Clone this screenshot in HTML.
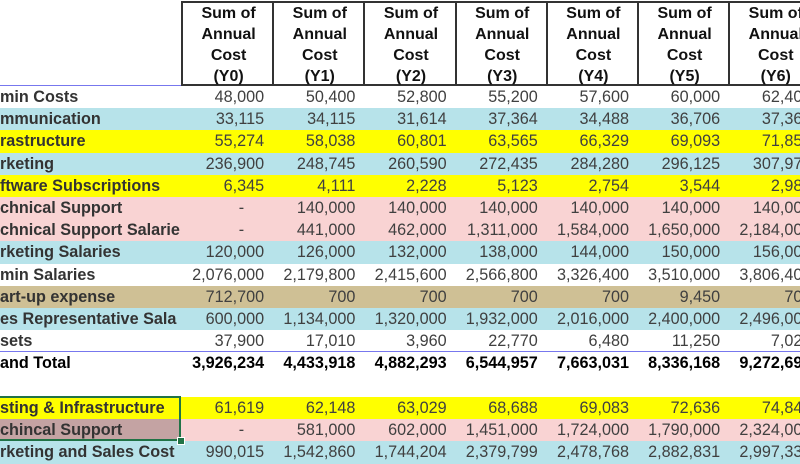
<!DOCTYPE html>
<html><head><meta charset="utf-8"><style>
body{margin:0;width:800px;height:460px;overflow:hidden;background:#fff;font-family:"Liberation Sans",sans-serif;position:relative}
.c{position:absolute;box-sizing:border-box;font-size:16.2px;white-space:nowrap;overflow:hidden;line-height:23px;color:#404040}
.h{position:absolute;top:1px;height:85px;box-sizing:border-box;border-left:2px solid #333;border-top:2px solid #333;border-bottom:2px solid #333;font-weight:bold;font-size:16px;text-align:center;line-height:21px;padding-top:0px;color:#111}
.lab{font-weight:bold;color:#333;padding-left:0}
.num{text-align:right;padding-right:8px}
</style></head><body>
<div id="root"></div>
<script>
const colHeads=["(Y0)","(Y1)","(Y2)","(Y3)","(Y4)","(Y5)","(Y6)"];
const labels=["min Costs","mmunication","rastructure","rketing","ftware Subscriptions","chnical Support","chnical Support Salarie","rketing Salaries","min Salaries","art-up expense","es Representative Sala","sets","and Total","","sting & Infrastructure","chincal Support","rketing and Sales Cost"];
const bgs=["#fff","#b7e3ea","#ffff00","#b7e3ea","#ffff00","#f9d3d3","#f9d3d3","#b7e3ea","#fff","#cfc095","#b7e3ea","#fff","#fff","#fff","#ffff00","#f9d3d3","#b7e3ea"];
const vals=[
["48,000","50,400","52,800","55,200","57,600","60,000","62,400"],
["33,115","34,115","31,614","37,364","34,488","36,706","37,364"],
["55,274","58,038","60,801","63,565","66,329","69,093","71,857"],
["236,900","248,745","260,590","272,435","284,280","296,125","307,970"],
["6,345","4,111","2,228","5,123","2,754","3,544","2,987"],
["-","140,000","140,000","140,000","140,000","140,000","140,000"],
["-","441,000","462,000","1,311,000","1,584,000","1,650,000","2,184,000"],
["120,000","126,000","132,000","138,000","144,000","150,000","156,000"],
["2,076,000","2,179,800","2,415,600","2,566,800","3,326,400","3,510,000","3,806,400"],
["712,700","700","700","700","700","9,450","700"],
["600,000","1,134,000","1,320,000","1,932,000","2,016,000","2,400,000","2,496,000"],
["37,900","17,010","3,960","22,770","6,480","11,250","7,020"],
["3,926,234","4,433,918","4,882,293","6,544,957","7,663,031","8,336,168","9,272,695"],
["","","","","","",""],
["61,619","62,148","63,029","68,688","69,083","72,636","74,844"],
["-","581,000","602,000","1,451,000","1,724,000","1,790,000","2,324,000"],
["990,015","1,542,860","1,744,204","2,379,799","2,478,768","2,882,831","2,997,330"]];
const root=document.getElementById('root');
const X0=181,CW=91.2,Y0=86,RH=22.2;
colHeads.forEach((h,i)=>{const d=document.createElement('div');d.className='h';


d.style.left=(X0+i*CW)+'px';d.style.width=(CW+2)+'px';
d.innerHTML='Sum of<br>Annual<br>Cost<br>'+h;root.appendChild(d);});
labels.forEach((l,r)=>{const top=Y0+r*RH;
const rowEl=document.createElement('div');rowEl.style.cssText='position:absolute;left:0;width:800px;height:'+(RH+0.5)+'px;top:'+top+'px;background:'+bgs[r];


root.appendChild(rowEl);
const lc=document.createElement('div');lc.className='c lab';lc.textContent=l;


lc.style.cssText+='left:0;width:181px;top:'+top+'px;height:'+RH+'px;';
if(r==12)lc.style.color='#000';
if(r==15)lc.style.background='#c4a3a3';
root.appendChild(lc);
vals[r].forEach((v,i)=>{const c=document.createElement('div');c.className='c num';c.textContent=v;


c.style.cssText+='left:'+(X0+i*CW)+'px;width:'+CW+'px;top:'+top+'px;height:'+RH+'px;';
if(r==12){c.style.fontWeight='bold';c.style.color='#000';}
if(v=='-')c.style.paddingRight='28px';
root.appendChild(c);});});
const bl=document.createElement('div');bl.style.cssText='position:absolute;left:0;width:181px;top:85px;height:1px;background:#7777ee';


root.appendChild(bl);
const tl=document.createElement('div');tl.style.cssText='position:absolute;left:0;width:800px;top:'+(Y0+12*RH-1)+'px;height:1px;background:#7777ee';


root.appendChild(tl);
const sel=document.createElement('div');sel.style.cssText='position:absolute;left:-2px;width:183px;top:'+(Y0+14*RH-1)+'px;height:'+(2*RH+1)+'px;border:2px solid #217346;box-sizing:border-box';


root.appendChild(sel);
const hd=document.createElement('div');hd.style.cssText='position:absolute;left:177px;top:'+(Y0+16*RH-4)+'px;width:6px;height:6px;background:#217346;border:1px solid #fff';


root.appendChild(hd);
</script>
</body></html>
